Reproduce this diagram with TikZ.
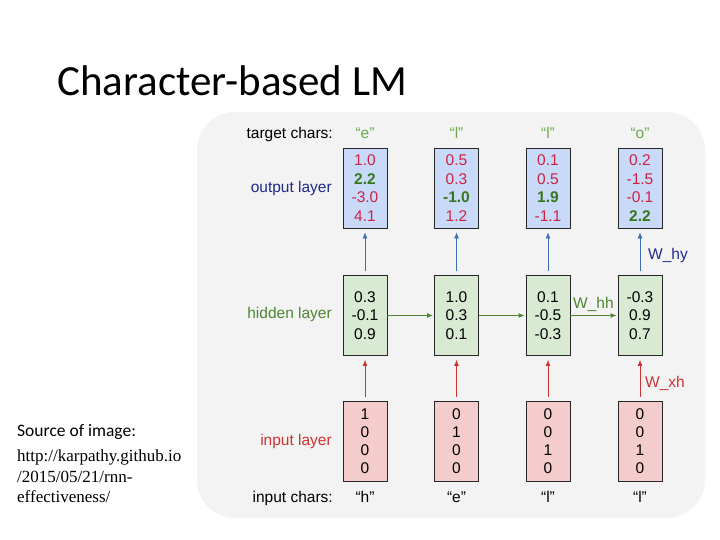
\documentclass[tikz,border=0pt]{standalone}
\usepackage{fontspec}
\setmainfont{Liberation Sans}
\newfontfamily\titlefont{Carlito}
\newfontfamily\seriffont{Liberation Serif}
\usetikzlibrary{arrows.meta}
\definecolor{panel}{HTML}{F3F3F3}
\definecolor{ofill}{HTML}{C9DAF8}
\definecolor{hfill}{HTML}{D9EAD3}
\definecolor{ifill}{HTML}{F4CCCC}
\definecolor{valred}{HTML}{CC2244}
\definecolor{valgreen}{HTML}{38761D}
\definecolor{lblnavy}{HTML}{1F2A8C}
\definecolor{lblgreen}{HTML}{4E8532}
\definecolor{lblred}{HTML}{CC3333}
\definecolor{arrblue}{HTML}{3D6DB5}
\definecolor{arrred}{HTML}{CC3333}
\definecolor{arrgreen}{HTML}{4E8532}
\definecolor{chargreen}{HTML}{6AA84F}
\newcommand{\rv}[1]{\textcolor{valred}{#1}}
\newcommand{\gv}[1]{\textcolor{valgreen}{\bfseries #1}}
\tikzset{
  vbox/.style={draw=black!85, line width=0.8pt, minimum width=44pt, minimum height=80pt,
    inner sep=0pt, align=center, font=\fontsize{15.5}{18.5}\selectfont},
  obox/.style={vbox, fill=ofill},
  hbox/.style={vbox, fill=hfill},
  ibox/.style={vbox, fill=ifill, font=\fontsize{15.5}{18}\selectfont},
  lbl/.style={font=\fontsize{15.5}{18}\selectfont, inner sep=0pt},
  uparrow/.style={line width=0.8pt, -{Latex[length=6pt,width=5pt]}, shorten >=4pt, shorten <=4pt},
  rarrow/.style={line width=1pt, draw=arrgreen, -{Latex[length=6pt,width=5pt]}, shorten >=1pt},
}
\begin{document}
\begin{tikzpicture}[x=1pt,y=-1pt]
\useasboundingbox (0,0) rectangle (720,540);
\fill[white] (0,0) rectangle (720,540);
\fill[panel] (197,112) [rounded corners=38pt] rectangle (705,518);
\node[anchor=base west, inner sep=0pt, font=\titlefont\fontsize{43}{46}\selectfont] (title) at (57,96) {Character-based LM};

% row labels
\node[lbl, anchor=base east] (tc) at (333,139) {target chars:};
\node[lbl, anchor=east, text=lblnavy] (ol) at (332,188) {output layer};
\node[lbl, anchor=east, text=lblgreen] (hl) at (332,314) {hidden layer};
\node[lbl, anchor=east, text=lblred] (il) at (332,441) {input layer};
\node[lbl, anchor=base east] (ic) at (333,502) {input chars:};

% target chars
\node[lbl, anchor=base, text=chargreen] (t1) at (365,139) {“e”};
\node[lbl, anchor=base, text=chargreen] (t2) at (456.5,139) {“l”};
\node[lbl, anchor=base, text=chargreen] (t3) at (548,139) {“l”};
\node[lbl, anchor=base, text=chargreen] (t4) at (640,139) {“o”};

% output boxes
\node[obox] (o1) at (365,188) {\rv{1.0}\\\gv{2.2}\\\rv{-3.0}\\\rv{4.1}};
\node[obox] (o2) at (456.5,188) {\rv{0.5}\\\rv{0.3}\\\gv{-1.0}\\\rv{1.2}};
\node[obox] (o3) at (548,188) {\rv{0.1}\\\rv{0.5}\\\gv{1.9}\\\rv{-1.1}};
\node[obox] (o4) at (640,188) {\rv{0.2}\\\rv{-1.5}\\\rv{-0.1}\\\gv{2.2}};

% hidden boxes
\node[hbox] (h1) at (365,315.5) {0.3\\-0.1\\0.9};
\node[hbox] (h2) at (456.5,315.5) {1.0\\0.3\\0.1};
\node[hbox] (h3) at (548,315.5) {0.1\\-0.5\\-0.3};
\node[hbox] (h4) at (640,315.5) {-0.3\\0.9\\0.7};

% input boxes
\node[ibox] (i1) at (365,441.5) {1\\0\\0\\0};
\node[ibox] (i2) at (456.5,441.5) {0\\1\\0\\0};
\node[ibox] (i3) at (548,441.5) {0\\0\\1\\0};
\node[ibox] (i4) at (640,441.5) {0\\0\\1\\0};

% input chars
\node[lbl, anchor=base] (c1) at (365,502) {“h”};
\node[lbl, anchor=base] (c2) at (456.5,502) {“e”};
\node[lbl, anchor=base] (c3) at (548,502) {“l”};
\node[lbl, anchor=base] (c4) at (640,502) {“l”};

% arrows
\foreach \k in {1,2,3,4}{
  \draw[uparrow, draw=arrblue] (h\k) -- (o\k);
  \draw[uparrow, draw=arrred] (i\k) -- (h\k);
}
\draw[rarrow] (h1) -- (h2);
\draw[rarrow] (h2) -- (h3);
\draw[rarrow] (h3) -- (h4);

% weight labels
\node[lbl, text=lblnavy, anchor=base west] (why) at (648,259) {W\_hy};
\node[lbl, text=lblgreen, anchor=base west] (whh) at (573,308) {W\_hh};
\node[lbl, text=lblred, anchor=base west] (wxh) at (645,387) {W\_xh};

% source text
\node[anchor=base west, inner sep=0pt, font=\titlefont\fontsize{17.5}{20}\selectfont] (src) at (17,436) {Source of image:};
\node[anchor=base west, inner sep=0pt, font=\seriffont\fontsize{17}{20}\selectfont] (u1) at (17,461) {http://karpathy.github.io};
\node[anchor=base west, inner sep=0pt, font=\seriffont\fontsize{17}{20}\selectfont] (u2) at (17,482) {/2015/05/21/rnn-};
\node[anchor=base west, inner sep=0pt, font=\seriffont\fontsize{17}{20}\selectfont] (u3) at (17,502) {effectiveness/};
\end{tikzpicture}
\end{document}
